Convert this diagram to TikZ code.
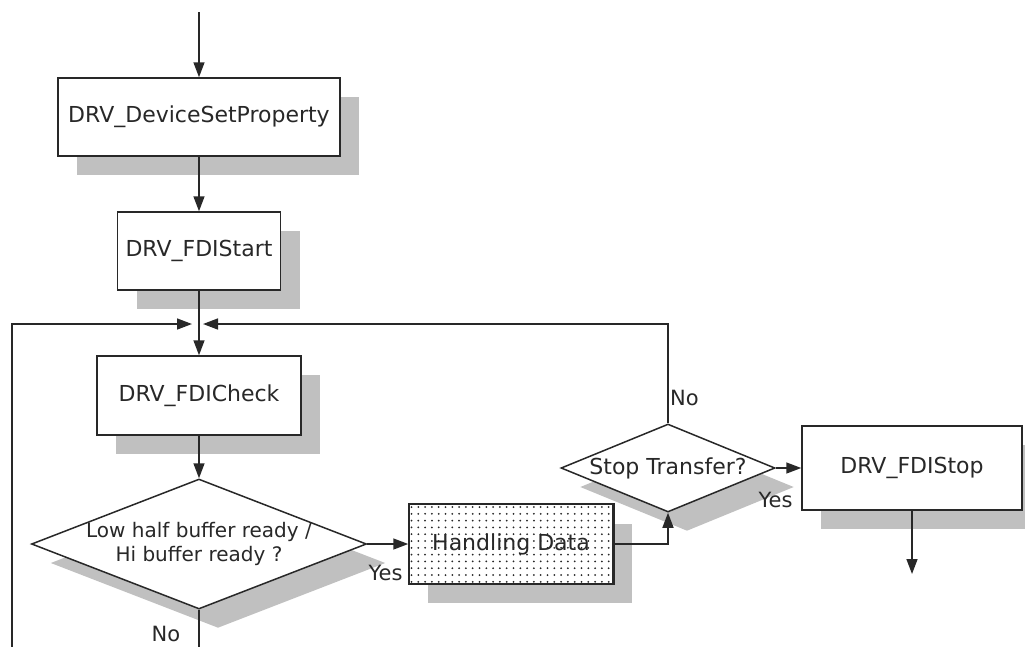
\documentclass[tikz,border=0pt]{standalone}
\usepackage{fontspec}
\setmainfont{DejaVu Sans}
\usetikzlibrary{shapes.geometric,arrows.meta,shadows}
\definecolor{shgray}{RGB}{192,192,192}
\definecolor{ink}{RGB}{40,40,40}
\begin{document}
\begin{tikzpicture}[x=1pt,y=-1pt,font=\fontsize{22}{26}\selectfont,text=ink,
  shad/.style={drop shadow={shadow xshift=19pt,shadow yshift=-19pt,fill=shgray,opacity=1,draw=none}},
  box/.style={draw=ink,line width=1.5pt,fill=white,rectangle,inner sep=0pt,shad},
  dia/.style={draw=ink,line width=1.5pt,fill=white,diamond,inner sep=0pt,shad},
  arr/.style={draw=ink,line width=1.5pt,-{Triangle[length=15pt,width=11pt]}},
  lab/.style={font=\fontsize{21}{24}\selectfont,inner sep=0pt,text=ink}]
\useasboundingbox (0,0) rectangle (1025,646);
\clip (0,0) rectangle (1025,646);
% nodes
\node[box,minimum width=282pt,minimum height=78pt] (b1) at (199,117) {DRV\_DeviceSetProperty};
\node[box,minimum width=163pt,minimum height=78pt] (b2) at (199,251) {DRV\_FDIStart};
\node[box,minimum width=204pt,minimum height=79pt] (b3) at (199,395.5) {DRV\_FDICheck};
\node[dia,minimum width=335pt,minimum height=130pt,
  label={[lab,align=center,font=\fontsize{20}{24}\selectfont]center:{Low half buffer ready /\\Hi buffer ready ?}}] (d1) at (199,544) {};
\node[box,minimum width=204pt,minimum height=79pt] (hd) at (511,544) {};
\begin{scope}
  \clip (409,504.5) rectangle (613,583.5);
  \foreach \i in {0,...,30}{
    \foreach \j in {0,...,12}{
      \fill[ink] (411.5+6.8*\i,507+6.8*\j) circle (1pt);
    }
  }
\end{scope}
\draw[ink,line width=1.5pt] (hd.north west) rectangle (hd.south east);
\node[inner sep=0pt] (hdt) at (hd.center) {Handling Data};
\node[dia,minimum width=214pt,minimum height=88pt,
  label={[lab,font=\fontsize{22}{26}\selectfont]center:{Stop Transfer?}}] (d2) at (668,468) {};
\node[box,minimum width=220pt,minimum height=84pt] (st) at (912,468) {DRV\_FDIStop};
% coordinates
\coordinate (top) at (199,12);
\coordinate (jl) at (192,324);
\coordinate (jr) at (203,324);
\coordinate (lt) at (12,324);
\coordinate (db) at (199,690);
\coordinate (lb) at (12,690);
\coordinate (end) at (912,574);
% connectors
\draw[arr] (top) -- (b1);
\draw[arr] (b1) -- (b2);
\draw[arr] (b2) -- (b3);
\draw[arr] (b3) -- (d1);
\draw[arr] (d1) -- (hd);
\draw[arr] (hd.east) -| (d2.south);
\draw[arr] (d2.north) |- (jr);
\draw[arr] (d2) -- (st);
\draw[arr] (st) -- (end);
\draw[arr] (d1.south) -- (db) -- (lb) -- (lt) -- (jl);
% labels
\node[lab] (y1) at (385.5,573) {Yes};
\node[lab] (n1) at (166,634) {No};
\node[lab] (n2) at (684.5,398) {No};
\node[lab] (y2) at (775.5,500) {Yes};
\end{tikzpicture}
\end{document}
